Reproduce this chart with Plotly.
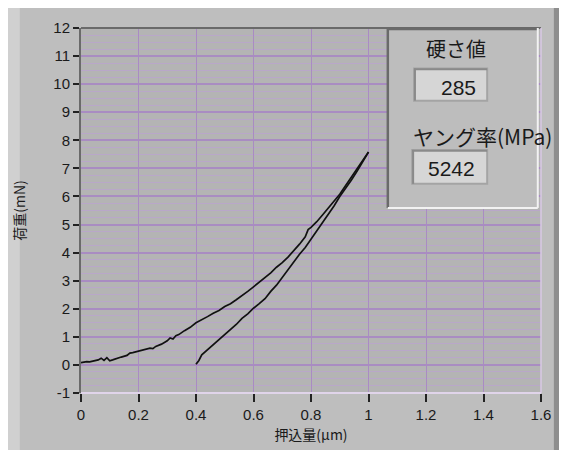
import plotly.graph_objects as go

# Loading curve
load_x = [0.00, 0.02, 0.03, 0.04, 0.05, 0.06, 0.07, 0.08, 0.09, 0.10, 0.11, 0.12,
          0.14, 0.16, 0.17, 0.18, 0.20, 0.22, 0.24, 0.25, 0.26, 0.28, 0.30, 0.31,
          0.32, 0.33, 0.34, 0.36, 0.38, 0.40, 0.42, 0.44, 0.46, 0.48, 0.50, 0.52,
          0.54, 0.56, 0.58, 0.60, 0.62, 0.64, 0.66, 0.68, 0.70, 0.72, 0.74, 0.76,
          0.78, 0.79, 0.80, 0.82, 0.84, 0.86, 0.88, 0.90, 0.92, 0.94, 0.96, 0.98,
          1.00]
load_y = [0.08, 0.12, 0.11, 0.14, 0.15, 0.18, 0.24, 0.16, 0.26, 0.15, 0.18, 0.22,
          0.28, 0.34, 0.42, 0.44, 0.50, 0.54, 0.60, 0.58, 0.66, 0.74, 0.86, 0.96,
          0.92, 1.04, 1.08, 1.22, 1.34, 1.50, 1.60, 1.72, 1.84, 1.94, 2.08, 2.18,
          2.32, 2.46, 2.62, 2.78, 2.94, 3.12, 3.28, 3.48, 3.64, 3.84, 4.06, 4.30,
          4.56, 4.82, 4.90, 5.10, 5.34, 5.58, 5.82, 6.08, 6.38, 6.68, 6.98, 7.28,
          7.58]

# Unloading curve
unload_x = [1.00, 0.98, 0.96, 0.94, 0.92, 0.90, 0.88, 0.86, 0.84, 0.82, 0.80, 0.78,
            0.76, 0.74, 0.72, 0.70, 0.68, 0.66, 0.64, 0.62, 0.60, 0.58, 0.56, 0.54,
            0.52, 0.50, 0.48, 0.46, 0.44, 0.43, 0.42, 0.41, 0.40]
unload_y = [7.58, 7.22, 6.90, 6.58, 6.30, 6.00, 5.66, 5.36, 5.06, 4.76, 4.49, 4.18,
            3.94, 3.66, 3.40, 3.12, 2.84, 2.62, 2.36, 2.18, 2.02, 1.82, 1.66, 1.44,
            1.26, 1.06, 0.88, 0.72, 0.52, 0.44, 0.36, 0.16, 0.02]

x_ticks = [0, 0.2, 0.4, 0.6, 0.8, 1, 1.2, 1.4, 1.6]
y_ticks = [-1, 0, 1, 2, 3, 4, 5, 6, 7, 8, 9, 10, 11, 12]

hardness_label = "硬さ値"
hardness_value = "285"
modulus_label = "ヤング率(MPa)"
modulus_value = "5242"

NUM_FONT = "Liberation Sans Narrow, Liberation Sans, Arial, sans-serif"
JP_FONT = "Noto Sans CJK JP, sans-serif"

fig = go.Figure()
fig.add_trace(go.Scatter(x=load_x, y=load_y, mode="lines",
                         line=dict(color="#111111", width=1.7), showlegend=False))
fig.add_trace(go.Scatter(x=unload_x, y=unload_y, mode="lines",
                         line=dict(color="#111111", width=1.7), showlegend=False))

P = dict(xref="paper", yref="paper")
shapes = [
    # left light strip and right dark strip of the panel
    dict(type="rect", **P, x0=-0.2, x1=-0.133, y0=-0.2, y1=1.1,
         fillcolor="#d0d0d0", line_width=0, layer="below"),
    dict(type="rect", **P, x0=1.028, x1=1.08, y0=-0.2, y1=1.1,
         fillcolor="#8e8e8e", line_width=0, layer="below"),
    # plot frame
    dict(type="line", **P, x0=0, x1=1, y0=1, y1=1,
         line=dict(color="#6a6a6a", width=2)),
    dict(type="line", **P, x0=1, x1=1, y0=0, y1=1,
         line=dict(color="#d8c8e4", width=1.5)),
    dict(type="line", **P, x0=0, x1=1, y0=0, y1=0,
         line=dict(color="#e0d4ea", width=2)),
    # inset panel
    dict(type="rect", **P, x0=0.667, x1=0.993, y0=0.507, y1=1.0,
         fillcolor="#bdbdbd", line_width=0),
    dict(type="line", **P, x0=0.667, x1=0.993, y0=0.997, y1=0.997,
         line=dict(color="#6a6a6a", width=2.5)),
    dict(type="line", **P, x0=0.667, x1=0.667, y0=0.507, y1=1.0,
         line=dict(color="#6a6a6a", width=2.5)),
    dict(type="line", **P, x0=0.667, x1=0.993, y0=0.507, y1=0.507,
         line=dict(color="#f2f2f2", width=2)),
    dict(type="line", **P, x0=0.993, x1=0.993, y0=0.507, y1=1.0,
         line=dict(color="#f2f2f2", width=2)),
    # value boxes (inset look)
    dict(type="rect", **P, x0=0.724, x1=0.883, y0=0.801, y1=0.889,
         fillcolor="#d6d6d6", line=dict(color="#a4a4a4", width=2)),
    dict(type="line", **P, x0=0.724, x1=0.883, y0=0.887, y1=0.887,
         line=dict(color="#8a8a8a", width=2)),
    dict(type="line", **P, x0=0.726, x1=0.726, y0=0.801, y1=0.889,
         line=dict(color="#8a8a8a", width=2)),
    dict(type="rect", **P, x0=0.72, x1=0.883, y0=0.573, y1=0.666,
         fillcolor="#d6d6d6", line=dict(color="#a4a4a4", width=2)),
    dict(type="line", **P, x0=0.72, x1=0.883, y0=0.664, y1=0.664,
         line=dict(color="#8a8a8a", width=2)),
    dict(type="line", **P, x0=0.722, x1=0.722, y0=0.573, y1=0.666,
         line=dict(color="#8a8a8a", width=2)),
]

annotations = [
    dict(text=hardness_label, **P, x=0.815, y=0.945, xanchor="center", yanchor="middle",
         showarrow=False, font=dict(family=JP_FONT, size=20, color="#1a1a1a")),
    dict(text=hardness_value, **P, x=0.862, y=0.838, xanchor="right", yanchor="middle",
         showarrow=False, font=dict(family=NUM_FONT, size=21, color="#1a1a1a")),
    dict(text=modulus_label, **P, x=0.872, y=0.703, xanchor="center", yanchor="middle",
         showarrow=False, font=dict(family=JP_FONT, size=21, color="#1a1a1a")),
    dict(text=modulus_value, **P, x=0.806, y=0.614, xanchor="center", yanchor="middle",
         showarrow=False, font=dict(family=NUM_FONT, size=21, color="#1a1a1a")),
]

fig.update_layout(
    width=567, height=450,
    margin=dict(l=73, r=34, t=20, b=65),
    paper_bgcolor="#bebebe",
    plot_bgcolor="#b4b4b4",
    shapes=shapes,
    annotations=annotations,
    xaxis=dict(
        range=[0, 1.6], tickvals=x_ticks, ticktext=[f"{v:g}" for v in x_ticks],
        showgrid=True, gridcolor="#a98cc2", gridwidth=1.2,
        zeroline=False, showline=False,
        ticks="outside", ticklen=8, tickwidth=1.5, tickcolor="#222222",
        tickfont=dict(family=NUM_FONT, size=15, color="#1a1a1a"),
        title=dict(text="押込量(μm)", standoff=8,
                   font=dict(family=JP_FONT, size=14, color="#1a1a1a")),
    ),
    yaxis=dict(
        range=[-1, 12], tickvals=y_ticks, ticktext=[str(v) for v in y_ticks],
        showgrid=True, gridcolor="#a98cc2", gridwidth=1.5,
        minor=dict(dtick=0.25, showgrid=True, gridcolor="#b9a7c9", gridwidth=1),
        zeroline=False, showline=True, linecolor="#6a6a6a", linewidth=2,
        ticks="outside", ticklen=6, tickwidth=1.5, tickcolor="#222222",
        tickfont=dict(family=NUM_FONT, size=15, color="#1a1a1a"),
        title=dict(text="荷重(mN)", standoff=24,
                   font=dict(family=JP_FONT, size=14, color="#1a1a1a")),
    ),
)

fig.write_html("out.html")
